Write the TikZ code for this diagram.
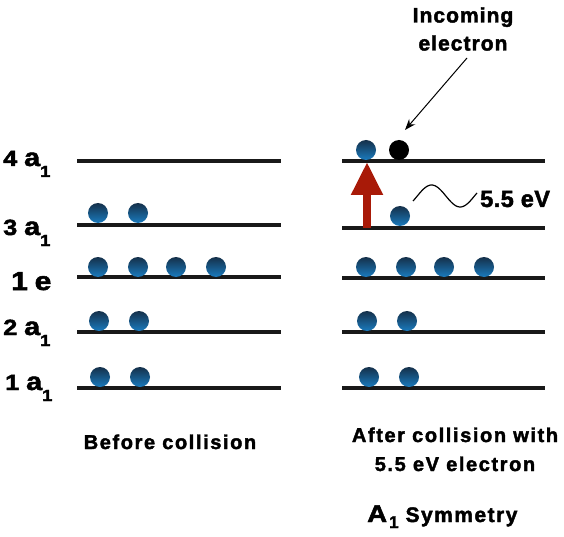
\documentclass[tikz,border=0pt]{standalone}
\usepackage{fontspec}
\setmainfont{Liberation Sans}[UprightFont={* Bold}, FakeBold=2]
\usetikzlibrary{arrows.meta}
\definecolor{etop}{HTML}{15304A}
\definecolor{ebot}{HTML}{1A7BBE}
\definecolor{arrowred}{HTML}{A81A08}
\newcommand{\lsp}[1]{\addfontfeatures{LetterSpace=#1}}
\newcommand{\fsz}[1]{\fontsize{#1}{#1}\selectfont}
\begin{document}
\begin{tikzpicture}[x=1pt,y=-1pt,
  level/.style={line width=3.6pt, black!90},
  elec/.style={circle, minimum size=20pt, inner sep=0pt, top color=etop, bottom color=ebot},
  incoming/.style={circle, minimum size=20pt, inner sep=0pt, fill=black},
  txt/.style={inner sep=0pt, anchor=base},
  lab/.style={inner sep=0pt, anchor=base west}]
\useasboundingbox (0,0) rectangle (564,537);
\newcommand{\lvl}[2]{\scalebox{1.15}[1]{{\fsz{22}#1}\hspace{6pt}{\fsz{25}#2}\raisebox{-11pt}{\fsz{16}1}}}
% level lines
\foreach \n/\y in {4/161,3/225,e/277,2/332,1/388}{
  \coordinate (L\n a) at (77,\y);
  \coordinate (L\n b) at (281,\y);
  \coordinate (R\n a) at (342,\y);
  \coordinate (R\n b) at (545,\y);
}
\coordinate (R3a) at (342,228); \coordinate (R3b) at (545,228);
\coordinate (Rea) at (342,278); \coordinate (Reb) at (545,278);
\foreach \n in {4,3,e,2,1}{
  \draw[level] (L\n a) -- (L\n b);
  \draw[level] (R\n a) -- (R\n b);
}
% labels
\node[lab] (t4) at (3,166) {\lvl{4}{a}};
\node[lab] (t3) at (3,235) {\lvl{3}{a}};
\node[lab] (te) at (11,290) {\scalebox{1.15}[1]{\fsz{26}1\hspace{6pt}e}};
\node[lab] (t2) at (3,335) {\lvl{2}{a}};
\node[lab] (t1) at (5,390) {\lvl{1}{a}};
% left electrons
\node[elec] (a31) at (98,213) {};
\node[elec] (a32) at (138,213) {};
\node[elec] (ae1) at (98,267) {};
\node[elec] (ae2) at (138,267) {};
\node[elec] (ae3) at (176,267) {};
\node[elec] (ae4) at (216,267) {};
\node[elec] (a21) at (99,321) {};
\node[elec] (a22) at (139,321) {};
\node[elec] (a11) at (100,377) {};
\node[elec] (a12) at (140,377) {};
% right electrons
\node[elec] (b41) at (366,150) {};
\node[incoming] (b42) at (399,150) {};
\node[elec] (b31) at (400,216) {};
\node[elec] (be1) at (366,267) {};
\node[elec] (be2) at (406,267) {};
\node[elec] (be3) at (444,267) {};
\node[elec] (be4) at (484,267) {};
\node[elec] (b21) at (367,321) {};
\node[elec] (b22) at (407,321) {};
\node[elec] (b11) at (369,377) {};
\node[elec] (b12) at (409,377) {};
% red excitation arrow
\coordinate (ra1) at (367,228);
\coordinate (ra2) at (367,162);
\draw[arrowred, line width=8pt, -{Triangle[length=33pt,width=30pt]}] (ra1) -- (ra2);
% incoming electron label and arrow
\node[txt] (inc1) at (463,22.5) {\fsz{21}\lsp{5}Incoming};
\node[txt] (inc2) at (463,50.5) {\fsz{21}\lsp{5}electron};
\coordinate (ia) at (467,58);
\coordinate (ib) at (405,130);
\draw[line width=1pt, -{Stealth[length=11pt,width=8pt]}] (ia) -- (ib);
% photon wave
\draw[line width=1.2pt] plot[domain=-27:376, samples=60] ({413+0.1588*(\x+27)},{196-11*sin(\x)});
\node[lab] (ev) at (480,207) {\fsz{23.5}\lsp{2}5.5 eV};
% captions
\node[txt] (before) at (170,449) {\fsz{20}\lsp{8}Before collision};
\node[txt] (after1) at (455,442) {\fsz{20}\lsp{8}After collision with};
\node[txt] (after2) at (455,471) {\fsz{20}\lsp{8}5.5 eV electron};
\node[lab] (sym) at (367,522) {\scalebox{1.15}[1]{\fsz{24}A}\hspace{2pt}\raisebox{-6pt}{\fsz{17}1}\hspace{7pt}{\fsz{21}\lsp{7}Symmetry}};
\end{tikzpicture}
\end{document}
